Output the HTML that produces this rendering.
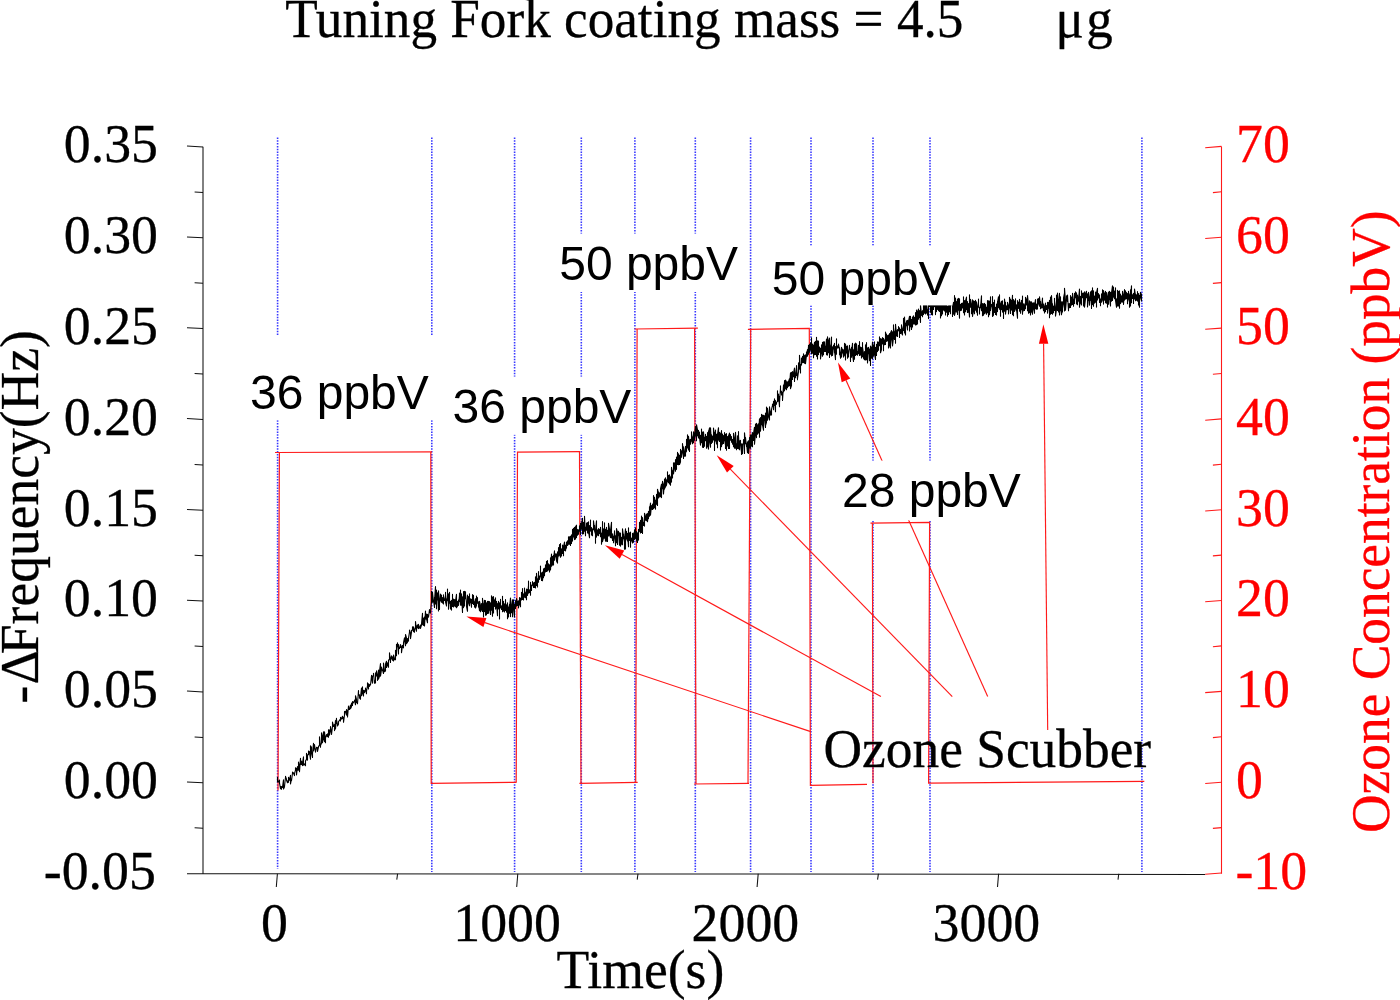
<!DOCTYPE html>
<html>
<head>
<meta charset="utf-8">
<title>Tuning Fork coating mass</title>
<style>
html, body { margin: 0; padding: 0; background: #fff; }
body { width: 1400px; height: 1000px; overflow: hidden; font-family: "Liberation Serif", serif; }
svg { display: block; }
</style>
</head>
<body>
<svg width="1400" height="1000" viewBox="0 0 1400 1000">
<rect x="0" y="0" width="1400" height="1000" fill="#fff"/>
<g stroke="#0000ff" stroke-width="1.6" stroke-dasharray="1.5 1.3" fill="none" opacity="0.78">
<line x1="277.6" y1="137.5" x2="277.6" y2="868.8"/>
<line x1="431.8" y1="137.5" x2="431.8" y2="872.0"/>
<line x1="514.6" y1="137.5" x2="514.6" y2="872.0"/>
<line x1="581.3" y1="137.5" x2="581.3" y2="872.0"/>
<line x1="634.9" y1="137.5" x2="634.9" y2="872.0"/>
<line x1="695.3" y1="137.5" x2="695.3" y2="872.0"/>
<line x1="750.6" y1="137.5" x2="750.6" y2="872.0"/>
<line x1="811.0" y1="137.5" x2="811.0" y2="872.0"/>
<line x1="873.0" y1="137.5" x2="873.0" y2="872.0"/>
<line x1="930.0" y1="137.5" x2="930.0" y2="872.0"/>
<line x1="1141.9" y1="137.5" x2="1141.9" y2="872.0"/>
</g>
<g stroke="#ff1a1a" stroke-width="1.2" fill="none" stroke-linejoin="miter">
<path d="M278.0 790.5 L279.4 452.4"/>
<path d="M275.0 452.5 L432.0 451.8"/>
<path d="M430.8 451.9 L431.2 783.4 L516.4 782.3"/>
<path d="M516.2 782.6 L517.5 452.2 L580.2 451.7"/>
<path d="M579.5 451.7 L581.0 783.4"/>
<path d="M579.4 783.4 L637.7 782.3"/>
<path d="M635.7 782.4 L637.1 329.0"/>
<path d="M634.7 329.0 L697.9 328.1"/>
<path d="M694.6 328.2 L696.0 783.9"/>
<path d="M694.0 784.0 L749.0 783.4"/>
<path d="M748.0 783.4 L750.7 329.3"/>
<path d="M747.9 329.3 L809.3 328.3 L810.4 785.4 L867.0 784.4"/>
<path d="M873.0 783.2 L872.4 523.2"/>
<path d="M870.5 523.2 L929.6 522.4 L928.6 783.2 L1144.3 781.4"/>
</g>
<path d="M277.5 777.0 L277.5 781.9 L278.5 781.1 L278.5 782.0 L279.5 780.0 L279.5 783.1 L280.5 788.7 L280.5 786.4 L280.5 788.7 L280.5 786.4 L281.5 789.2 L281.5 786.5 L281.5 789.2 L281.5 786.5 L282.5 787.5 L282.5 787.0 L282.5 787.5 L282.5 787.0 L283.5 779.7 L283.5 788.9 L284.5 787.0 L284.5 786.4 L284.5 787.0 L284.5 786.4 L285.5 777.2 L285.5 776.4 L285.5 777.2 L285.5 776.4 L286.5 779.2 L286.5 780.2 L287.5 782.7 L287.5 780.7 L287.5 782.7 L287.5 780.7 L288.5 782.3 L288.5 777.2 L288.5 782.3 L288.5 777.2 L289.5 780.3 L289.5 780.0 L289.5 780.3 L289.5 780.0 L290.5 775.3 L290.5 784.0 L291.5 778.9 L291.5 780.8 L292.5 773.1 L292.5 772.1 L292.5 773.1 L292.5 772.1 L293.5 773.0 L293.5 773.3 L294.5 775.6 L294.5 773.5 L294.5 775.6 L294.5 773.5 L295.5 770.2 L295.5 767.7 L295.5 770.2 L295.5 767.7 L296.5 768.8 L296.5 775.0 L297.5 766.5 L297.5 770.0 L298.5 770.1 L298.5 762.0 L298.5 770.1 L298.5 762.0 L299.5 767.4 L299.5 771.7 L300.5 758.2 L300.5 764.2 L301.5 764.4 L301.5 761.1 L301.5 764.4 L301.5 761.1 L302.5 765.6 L302.5 762.8 L302.5 765.6 L302.5 762.8 L303.5 756.8 L303.5 765.1 L304.5 763.9 L304.5 764.4 L305.5 765.7 L305.5 760.9 L305.5 765.7 L305.5 760.9 L306.5 759.4 L306.5 753.3 L306.5 759.4 L306.5 753.3 L307.5 760.1 L307.5 754.8 L307.5 760.1 L307.5 754.8 L308.5 754.8 L308.5 751.0 L308.5 754.8 L308.5 751.0 L309.5 751.6 L309.5 752.7 L310.5 759.2 L310.5 745.7 L310.5 759.2 L310.5 745.7 L311.5 747.3 L311.5 753.3 L312.5 757.4 L312.5 753.5 L312.5 757.4 L312.5 753.5 L313.5 743.2 L313.5 751.0 L314.5 746.6 L314.5 744.5 L314.5 746.6 L314.5 744.5 L315.5 752.1 L315.5 752.0 L315.5 752.1 L315.5 752.0 L316.5 747.7 L316.5 747.4 L316.5 747.7 L316.5 747.4 L317.5 747.6 L317.5 751.5 L318.5 747.1 L318.5 746.1 L318.5 747.1 L318.5 746.1 L319.5 745.7 L319.5 736.8 L319.5 745.7 L319.5 736.8 L320.5 747.3 L320.5 745.5 L320.5 747.3 L320.5 745.5 L321.5 743.2 L321.5 732.9 L321.5 743.2 L321.5 732.9 L322.5 737.5 L322.5 742.7 L323.5 731.7 L323.5 737.5 L324.5 741.6 L324.5 731.9 L324.5 741.6 L324.5 731.9 L325.5 742.7 L325.5 738.0 L325.5 742.7 L325.5 738.0 L326.5 734.6 L326.5 735.9 L327.5 736.6 L327.5 733.9 L327.5 736.6 L327.5 733.9 L328.5 737.3 L328.5 729.7 L328.5 737.3 L328.5 729.7 L329.5 730.0 L329.5 735.1 L330.5 730.6 L330.5 726.5 L330.5 730.6 L330.5 726.5 L331.5 733.0 L331.5 734.4 L332.5 726.4 L332.5 722.1 L332.5 726.4 L332.5 722.1 L333.5 726.4 L333.5 725.7 L333.5 726.4 L333.5 725.7 L334.5 724.6 L334.5 730.6 L335.5 720.5 L335.5 728.9 L336.5 718.4 L336.5 719.7 L337.5 724.6 L337.5 726.0 L338.5 724.3 L338.5 721.7 L338.5 724.3 L338.5 721.7 L339.5 720.4 L339.5 719.8 L339.5 720.4 L339.5 719.8 L340.5 720.9 L340.5 717.3 L340.5 720.9 L340.5 717.3 L341.5 718.5 L341.5 719.1 L342.5 716.3 L342.5 718.6 L343.5 717.3 L343.5 722.3 L344.5 715.1 L344.5 711.6 L344.5 715.1 L344.5 711.6 L345.5 711.2 L345.5 712.1 L346.5 715.1 L346.5 709.6 L346.5 715.1 L346.5 709.6 L347.5 711.8 L347.5 716.9 L348.5 706.1 L348.5 709.5 L349.5 709.5 L349.5 708.3 L349.5 709.5 L349.5 708.3 L350.5 705.1 L350.5 708.7 L351.5 706.7 L351.5 703.0 L351.5 706.7 L351.5 703.0 L352.5 705.4 L352.5 701.6 L352.5 705.4 L352.5 701.6 L353.5 702.8 L353.5 701.7 L353.5 702.8 L353.5 701.7 L354.5 701.8 L354.5 700.1 L354.5 701.8 L354.5 700.1 L355.5 704.8 L355.5 695.7 L355.5 704.8 L355.5 695.7 L356.5 699.4 L356.5 702.8 L357.5 701.8 L357.5 703.7 L358.5 690.6 L358.5 695.3 L359.5 694.8 L359.5 697.9 L360.5 699.2 L360.5 697.3 L360.5 699.2 L360.5 697.3 L361.5 688.1 L361.5 695.8 L362.5 686.7 L362.5 692.6 L363.5 696.0 L363.5 690.2 L363.5 696.0 L363.5 690.2 L364.5 690.9 L364.5 692.7 L365.5 689.5 L365.5 688.0 L365.5 689.5 L365.5 688.0 L366.5 693.8 L366.5 691.3 L366.5 693.8 L366.5 691.3 L367.5 685.5 L367.5 682.9 L367.5 685.5 L367.5 682.9 L368.5 689.0 L368.5 683.8 L368.5 689.0 L368.5 683.8 L369.5 684.8 L369.5 686.4 L370.5 683.9 L370.5 685.0 L371.5 675.9 L371.5 675.4 L371.5 675.9 L371.5 675.4 L372.5 683.1 L372.5 676.3 L372.5 683.1 L372.5 676.3 L373.5 675.5 L373.5 673.2 L373.5 675.5 L373.5 673.2 L374.5 683.2 L374.5 680.6 L374.5 683.2 L374.5 680.6 L375.5 682.9 L375.5 672.9 L375.5 682.9 L375.5 672.9 L376.5 675.9 L376.5 670.9 L376.5 675.9 L376.5 670.9 L377.5 677.7 L377.5 680.4 L378.5 670.1 L378.5 679.1 L379.5 676.2 L379.5 671.1 L379.5 676.2 L379.5 671.1 L380.5 663.5 L380.5 676.1 L381.5 669.6 L381.5 667.1 L381.5 669.6 L381.5 667.1 L382.5 670.4 L382.5 669.8 L382.5 670.4 L382.5 669.8 L383.5 673.5 L383.5 663.1 L383.5 673.5 L383.5 663.1 L384.5 670.9 L384.5 671.7 L385.5 670.9 L385.5 664.0 L385.5 670.9 L385.5 664.0 L386.5 661.2 L386.5 667.5 L387.5 663.3 L387.5 662.8 L387.5 663.3 L387.5 662.8 L388.5 667.3 L388.5 660.1 L388.5 667.3 L388.5 660.1 L389.5 659.5 L389.5 652.7 L389.5 659.5 L389.5 652.7 L390.5 662.5 L390.5 660.0 L390.5 662.5 L390.5 660.0 L391.5 655.8 L391.5 657.5 L392.5 660.2 L392.5 656.7 L392.5 660.2 L392.5 656.7 L393.5 661.0 L393.5 655.0 L393.5 661.0 L393.5 655.0 L394.5 658.7 L394.5 659.8 L395.5 659.7 L395.5 650.2 L395.5 659.7 L395.5 650.2 L396.5 655.7 L396.5 644.3 L396.5 655.7 L396.5 644.3 L397.5 646.8 L397.5 642.8 L397.5 646.8 L397.5 642.8 L398.5 654.0 L398.5 644.5 L398.5 654.0 L398.5 644.5 L399.5 648.6 L399.5 647.3 L399.5 648.6 L399.5 647.3 L400.5 647.4 L400.5 644.6 L400.5 647.4 L400.5 644.6 L401.5 647.2 L401.5 652.7 L402.5 645.3 L402.5 646.6 L403.5 647.8 L403.5 642.6 L403.5 647.8 L403.5 642.6 L404.5 637.8 L404.5 640.0 L405.5 645.7 L405.5 634.5 L405.5 645.7 L405.5 634.5 L406.5 638.0 L406.5 643.7 L407.5 642.3 L407.5 638.6 L407.5 642.3 L407.5 638.6 L408.5 641.1 L408.5 638.1 L408.5 641.1 L408.5 638.1 L409.5 632.2 L409.5 630.1 L409.5 632.2 L409.5 630.1 L410.5 633.1 L410.5 638.6 L411.5 632.2 L411.5 630.3 L411.5 632.2 L411.5 630.3 L412.5 630.2 L412.5 626.7 L412.5 630.2 L412.5 626.7 L413.5 631.6 L413.5 626.9 L413.5 631.6 L413.5 626.9 L414.5 632.3 L414.5 631.2 L414.5 632.3 L414.5 631.2 L415.5 627.2 L415.5 621.5 L415.5 627.2 L415.5 621.5 L416.5 631.3 L416.5 626.8 L416.5 631.3 L416.5 626.8 L417.5 624.9 L417.5 627.9 L418.5 624.4 L418.5 628.6 L419.5 627.9 L419.5 627.0 L419.5 627.9 L419.5 627.0 L420.5 625.0 L420.5 628.4 L421.5 625.2 L421.5 623.8 L421.5 625.2 L421.5 623.8 L422.5 613.3 L422.5 624.3 L423.5 625.3 L423.5 618.5 L423.5 625.3 L423.5 618.5 L424.5 617.2 L424.5 626.0 L425.5 611.0 L425.5 619.1 L426.5 614.1 L426.5 618.8 L427.5 622.8 L427.5 614.4 L427.5 622.8 L427.5 614.4 L428.5 616.5 L428.5 617.2 L429.5 609.6 L429.5 612.2 L430.5 613.1 L430.5 612.0 L430.5 613.1 L430.5 612.0 L431.5 601.8 L431.5 591.2 L431.5 601.8 L431.5 595.0 L432.5 602.3 L432.5 592.3 L432.5 602.3 L432.5 592.5 L433.5 602.0 L433.5 600.0 L433.5 602.0 L433.5 600.4 L434.5 607.4 L434.5 597.4 L434.5 607.4 L434.5 600.8 L435.5 586.6 L435.5 603.9 L435.5 594.0 L436.5 605.8 L436.5 590.1 L436.5 608.7 L436.5 594.4 L437.5 600.0 L437.5 592.9 L437.5 600.0 L437.5 592.9 L438.5 610.9 L438.5 590.9 L438.5 610.9 L438.5 590.9 L439.5 608.7 L439.5 603.7 L439.5 609.5 L439.5 603.7 L440.5 594.0 L440.5 600.6 L440.5 598.8 L441.5 602.2 L441.5 595.0 L441.5 602.2 L441.5 601.9 L442.5 601.5 L442.5 597.5 L442.5 603.0 L442.5 597.5 L443.5 604.0 L443.5 594.7 L443.5 604.0 L443.5 595.9 L444.5 599.5 L444.5 598.9 L444.5 600.5 L444.5 599.6 L445.5 600.7 L445.5 592.4 L445.5 602.2 L446.5 605.9 L446.5 598.8 L446.5 605.9 L446.5 602.5 L447.5 594.3 L447.5 589.0 L447.5 600.4 L447.5 594.6 L448.5 604.4 L448.5 593.8 L448.5 609.3 L449.5 598.0 L449.5 592.3 L449.5 603.3 L450.5 603.2 L450.5 601.4 L450.5 609.0 L450.5 604.5 L451.5 600.3 L451.5 610.1 L451.5 606.2 L452.5 606.5 L452.5 594.4 L452.5 606.5 L452.5 604.9 L453.5 599.0 L453.5 607.0 L453.5 606.1 L454.5 599.6 L454.5 605.9 L454.5 601.5 L455.5 599.6 L455.5 606.7 L455.5 601.1 L456.5 594.4 L456.5 607.8 L457.5 605.8 L457.5 601.4 L457.5 606.3 L457.5 604.5 L458.5 602.6 L458.5 600.0 L458.5 605.5 L459.5 595.4 L459.5 593.1 L459.5 601.6 L459.5 593.1 L460.5 599.1 L460.5 590.0 L460.5 605.1 L461.5 605.1 L461.5 593.7 L461.5 605.1 L461.5 593.7 L462.5 612.5 L462.5 596.9 L462.5 612.5 L462.5 596.9 L463.5 601.0 L463.5 591.5 L463.5 607.6 L464.5 591.2 L464.5 605.9 L464.5 592.1 L465.5 591.7 L465.5 598.7 L465.5 594.3 L466.5 602.6 L466.5 606.6 L467.5 611.3 L467.5 595.0 L467.5 611.3 L467.5 599.7 L468.5 596.6 L468.5 596.5 L468.5 602.8 L469.5 605.7 L469.5 593.7 L469.5 605.7 L469.5 602.8 L470.5 601.8 L470.5 598.7 L470.5 602.7 L470.5 598.7 L471.5 607.2 L471.5 599.3 L471.5 607.2 L471.5 599.3 L472.5 602.2 L472.5 594.6 L472.5 603.5 L472.5 594.6 L473.5 604.5 L473.5 595.4 L473.5 604.5 L473.5 602.0 L474.5 601.7 L474.5 607.1 L474.5 603.4 L475.5 598.7 L475.5 608.0 L476.5 605.5 L476.5 596.0 L476.5 605.5 L476.5 601.7 L477.5 599.6 L477.5 597.5 L477.5 603.3 L477.5 601.1 L478.5 604.6 L478.5 601.7 L478.5 607.1 L478.5 602.8 L479.5 610.6 L479.5 601.2 L479.5 610.7 L479.5 601.2 L480.5 605.7 L480.5 605.7 L480.5 611.8 L481.5 608.9 L481.5 603.6 L481.5 610.0 L481.5 603.6 L482.5 607.5 L482.5 598.3 L482.5 611.5 L482.5 598.8 L483.5 606.1 L483.5 603.5 L483.5 617.0 L483.5 604.9 L484.5 611.6 L484.5 600.2 L484.5 611.6 L484.5 606.4 L485.5 608.3 L485.5 600.5 L485.5 615.2 L486.5 614.8 L486.5 602.7 L486.5 614.8 L486.5 602.7 L487.5 613.4 L487.5 601.2 L487.5 613.4 L487.5 602.5 L488.5 601.3 L488.5 613.2 L488.5 605.4 L489.5 601.6 L489.5 610.2 L489.5 607.4 L490.5 614.4 L490.5 602.7 L490.5 614.4 L490.5 605.7 L491.5 610.3 L491.5 595.7 L491.5 610.3 L491.5 595.7 L492.5 616.2 L492.5 597.2 L492.5 616.2 L492.5 597.2 L493.5 596.6 L493.5 612.9 L493.5 605.8 L494.5 604.3 L494.5 599.9 L494.5 606.4 L495.5 597.9 L495.5 609.1 L496.5 605.1 L496.5 601.2 L496.5 607.4 L496.5 603.7 L497.5 615.6 L497.5 603.9 L497.5 615.6 L497.5 603.9 L498.5 602.6 L498.5 601.3 L498.5 608.5 L499.5 609.8 L499.5 602.8 L499.5 619.0 L499.5 602.8 L500.5 607.0 L500.5 599.4 L500.5 608.0 L501.5 608.0 L501.5 605.7 L501.5 609.5 L501.5 609.3 L502.5 607.5 L502.5 596.3 L502.5 611.7 L502.5 602.2 L503.5 607.3 L503.5 601.3 L503.5 611.1 L504.5 603.7 L504.5 611.9 L504.5 609.3 L505.5 610.5 L505.5 599.5 L505.5 610.5 L505.5 607.5 L506.5 610.4 L506.5 604.7 L506.5 612.2 L507.5 602.8 L507.5 618.7 L507.5 604.7 L508.5 608.8 L508.5 607.1 L508.5 617.0 L508.5 609.9 L509.5 613.3 L509.5 604.2 L509.5 613.3 L509.5 608.2 L510.5 598.0 L510.5 616.6 L510.5 598.2 L511.5 612.7 L511.5 607.7 L511.5 612.7 L511.5 610.6 L512.5 599.7 L512.5 616.7 L512.5 604.6 L513.5 601.8 L513.5 599.7 L513.5 609.2 L514.5 616.9 L514.5 604.5 L514.5 616.9 L514.5 604.5 L515.5 603.4 L515.5 601.0 L515.5 608.4 L515.5 601.0 L516.5 600.0 L516.5 598.5 L516.5 606.1 L516.5 598.5 L517.5 603.0 L517.5 601.2 L517.5 605.4 L517.5 602.5 L518.5 602.3 L518.5 600.9 L518.5 607.9 L519.5 599.9 L519.5 597.6 L519.5 604.9 L519.5 600.9 L520.5 603.6 L520.5 598.0 L520.5 606.7 L520.5 599.1 L521.5 600.0 L521.5 592.2 L521.5 600.0 L521.5 595.2 L522.5 599.5 L522.5 588.6 L522.5 599.5 L522.5 597.2 L523.5 597.8 L523.5 594.0 L523.5 600.0 L523.5 594.6 L524.5 592.8 L524.5 588.0 L524.5 597.3 L524.5 591.6 L525.5 594.2 L525.5 593.0 L525.5 597.7 L525.5 594.7 L526.5 590.2 L526.5 589.1 L526.5 599.8 L526.5 589.1 L527.5 589.9 L527.5 595.5 L528.5 585.2 L528.5 581.1 L528.5 593.2 L529.5 592.2 L529.5 589.8 L529.5 592.6 L530.5 589.9 L530.5 582.2 L530.5 595.3 L530.5 585.7 L531.5 589.5 L531.5 585.1 L531.5 590.5 L531.5 586.1 L532.5 584.7 L532.5 581.5 L532.5 584.7 L532.5 582.1 L533.5 587.4 L533.5 582.9 L533.5 587.4 L533.5 582.9 L534.5 587.4 L534.5 582.2 L534.5 587.4 L534.5 585.4 L535.5 581.5 L535.5 576.8 L535.5 588.0 L535.5 583.3 L536.5 576.8 L536.5 573.2 L536.5 585.4 L536.5 573.2 L537.5 586.9 L537.5 579.7 L537.5 586.9 L537.5 579.7 L538.5 577.9 L538.5 571.5 L538.5 582.2 L538.5 577.8 L539.5 576.1 L539.5 579.4 L540.5 574.5 L540.5 566.1 L540.5 575.7 L540.5 573.4 L541.5 577.9 L541.5 572.7 L541.5 580.5 L541.5 573.5 L542.5 580.7 L542.5 572.0 L542.5 580.7 L542.5 580.2 L543.5 572.7 L543.5 568.8 L543.5 577.6 L543.5 572.5 L544.5 571.0 L544.5 568.4 L544.5 575.7 L544.5 568.4 L545.5 567.6 L545.5 564.9 L545.5 572.0 L545.5 571.4 L546.5 571.4 L546.5 561.2 L546.5 571.4 L546.5 561.2 L547.5 571.0 L547.5 560.6 L547.5 571.0 L547.5 564.3 L548.5 564.7 L548.5 563.8 L548.5 570.0 L548.5 563.8 L549.5 567.7 L549.5 564.7 L549.5 571.9 L549.5 566.0 L550.5 569.5 L550.5 557.8 L550.5 570.0 L551.5 554.1 L551.5 566.2 L552.5 564.6 L552.5 556.4 L552.5 564.6 L552.5 561.2 L553.5 565.0 L553.5 555.3 L553.5 565.0 L553.5 559.4 L554.5 550.7 L554.5 560.3 L555.5 555.0 L555.5 553.9 L555.5 556.9 L556.5 553.9 L556.5 561.1 L557.5 563.1 L557.5 551.9 L557.5 563.1 L557.5 560.6 L558.5 551.2 L558.5 547.5 L558.5 556.1 L558.5 547.5 L559.5 555.3 L559.5 544.6 L559.5 555.3 L559.5 553.6 L560.5 557.3 L560.5 543.5 L560.5 557.3 L560.5 552.0 L561.5 552.9 L561.5 548.9 L561.5 555.9 L561.5 548.9 L562.5 553.4 L562.5 545.1 L562.5 553.4 L562.5 545.1 L563.5 547.9 L563.5 546.8 L563.5 555.7 L563.5 546.8 L564.5 542.1 L564.5 550.4 L565.5 547.8 L565.5 545.2 L565.5 551.0 L566.5 543.0 L566.5 542.0 L566.5 548.1 L566.5 544.1 L567.5 542.3 L567.5 540.7 L567.5 545.4 L568.5 543.9 L568.5 536.7 L568.5 543.9 L568.5 542.2 L569.5 536.7 L569.5 544.2 L569.5 538.8 L570.5 543.4 L570.5 536.3 L570.5 545.4 L570.5 540.9 L571.5 534.9 L571.5 543.4 L571.5 535.0 L572.5 541.1 L572.5 529.4 L572.5 541.1 L572.5 538.8 L573.5 535.9 L573.5 528.2 L573.5 535.9 L573.5 528.2 L574.5 538.9 L574.5 527.2 L574.5 539.6 L574.5 531.6 L575.5 534.5 L575.5 526.9 L575.5 539.1 L575.5 526.9 L576.5 525.2 L576.5 537.6 L576.5 528.2 L577.5 535.3 L577.5 529.6 L577.5 535.3 L577.5 529.6 L578.5 534.2 L578.5 529.9 L578.5 534.2 L578.5 529.9 L579.5 531.2 L579.5 525.8 L579.5 531.2 L579.5 528.3 L580.5 533.1 L580.5 523.2 L580.5 534.5 L580.5 523.2 L581.5 529.3 L581.5 523.5 L581.5 529.3 L581.5 523.5 L582.5 518.3 L582.5 534.0 L582.5 524.5 L583.5 529.0 L583.5 522.3 L583.5 533.7 L583.5 527.4 L584.5 531.3 L584.5 516.2 L584.5 531.3 L584.5 516.2 L585.5 535.7 L585.5 527.1 L585.5 535.7 L585.5 527.1 L586.5 530.3 L586.5 523.0 L586.5 530.3 L586.5 524.7 L587.5 525.6 L587.5 522.5 L587.5 533.0 L588.5 521.8 L588.5 533.3 L588.5 531.7 L589.5 537.7 L589.5 525.6 L589.5 537.7 L589.5 530.2 L590.5 530.9 L590.5 520.0 L590.5 531.1 L591.5 527.5 L591.5 534.9 L592.5 535.7 L592.5 528.9 L592.5 535.7 L592.5 530.5 L593.5 529.1 L593.5 520.8 L593.5 529.8 L593.5 520.8 L594.5 529.0 L594.5 525.4 L594.5 530.9 L595.5 534.1 L595.5 530.2 L595.5 543.3 L595.5 530.5 L596.5 520.8 L596.5 537.1 L596.5 532.3 L597.5 534.6 L597.5 529.9 L597.5 535.2 L598.5 533.9 L598.5 528.5 L598.5 535.7 L599.5 529.2 L599.5 529.2 L599.5 533.4 L599.5 532.0 L600.5 533.4 L600.5 527.3 L600.5 536.7 L600.5 532.2 L601.5 536.0 L601.5 533.3 L601.5 544.2 L602.5 527.4 L602.5 521.6 L602.5 541.7 L603.5 538.2 L603.5 528.9 L603.5 538.2 L603.5 528.9 L604.5 538.3 L604.5 522.7 L604.5 538.3 L604.5 527.5 L605.5 541.1 L605.5 529.2 L605.5 541.1 L605.5 534.8 L606.5 529.2 L606.5 527.4 L606.5 541.2 L606.5 527.4 L607.5 541.4 L607.5 530.4 L607.5 541.4 L607.5 533.9 L608.5 532.2 L608.5 523.4 L608.5 535.9 L608.5 523.4 L609.5 529.1 L609.5 534.7 L610.5 537.6 L610.5 529.9 L610.5 537.6 L610.5 530.5 L611.5 522.3 L611.5 537.9 L612.5 534.2 L612.5 533.9 L612.5 540.4 L612.5 535.1 L613.5 539.4 L613.5 536.4 L613.5 542.8 L614.5 532.0 L614.5 530.7 L614.5 533.3 L614.5 530.8 L615.5 544.5 L615.5 535.8 L615.5 545.8 L615.5 539.0 L616.5 542.6 L616.5 528.6 L616.5 542.8 L616.5 528.6 L617.5 532.2 L617.5 544.4 L617.5 536.7 L618.5 531.2 L618.5 534.2 L618.5 531.4 L619.5 545.1 L619.5 532.8 L619.5 545.1 L619.5 541.4 L620.5 538.6 L620.5 533.1 L620.5 546.2 L621.5 540.4 L621.5 537.5 L621.5 544.2 L621.5 540.0 L622.5 535.9 L622.5 528.9 L622.5 544.7 L622.5 528.9 L623.5 536.9 L623.5 534.1 L623.5 538.7 L623.5 535.6 L624.5 542.1 L624.5 539.5 L624.5 549.2 L624.5 539.5 L625.5 528.7 L625.5 548.9 L625.5 537.7 L626.5 531.4 L626.5 538.5 L627.5 540.9 L627.5 533.4 L627.5 540.9 L627.5 533.4 L628.5 546.7 L628.5 527.9 L628.5 546.7 L628.5 537.4 L629.5 534.2 L629.5 532.8 L629.5 540.4 L630.5 532.0 L630.5 547.2 L630.5 542.9 L631.5 538.1 L631.5 539.6 L631.5 538.5 L632.5 542.9 L632.5 533.3 L632.5 542.9 L632.5 533.3 L633.5 542.2 L633.5 533.9 L633.5 542.2 L633.5 533.9 L634.5 531.6 L634.5 529.8 L634.5 539.5 L635.5 533.9 L635.5 527.7 L635.5 538.5 L636.5 531.5 L636.5 540.2 L637.5 542.5 L637.5 532.9 L637.5 542.5 L637.5 532.9 L638.5 540.1 L638.5 529.3 L638.5 540.1 L638.5 532.5 L639.5 531.2 L639.5 522.3 L639.5 531.2 L639.5 522.3 L640.5 525.6 L640.5 520.4 L640.5 533.0 L640.5 529.3 L641.5 520.7 L641.5 516.1 L641.5 532.5 L641.5 516.1 L642.5 533.3 L642.5 517.5 L642.5 533.4 L642.5 517.5 L643.5 525.4 L643.5 522.4 L643.5 525.4 L643.5 522.4 L644.5 526.1 L644.5 513.2 L644.5 526.1 L644.5 513.2 L645.5 516.7 L645.5 516.1 L645.5 520.2 L645.5 519.3 L646.5 517.8 L646.5 514.0 L646.5 520.8 L647.5 519.4 L647.5 513.5 L647.5 521.8 L648.5 511.3 L648.5 518.6 L648.5 511.5 L649.5 516.2 L649.5 506.7 L649.5 516.2 L649.5 512.0 L650.5 503.1 L650.5 515.3 L651.5 505.6 L651.5 509.3 L651.5 506.0 L652.5 508.3 L652.5 504.0 L652.5 509.4 L652.5 505.8 L653.5 506.3 L653.5 495.6 L653.5 508.7 L653.5 495.6 L654.5 504.0 L654.5 497.2 L654.5 507.7 L654.5 497.2 L655.5 509.1 L655.5 500.5 L655.5 509.1 L655.5 503.7 L656.5 498.3 L656.5 494.4 L656.5 504.3 L656.5 503.0 L657.5 505.5 L657.5 489.2 L657.5 505.5 L657.5 489.2 L658.5 493.5 L658.5 491.8 L658.5 498.0 L659.5 496.3 L659.5 492.8 L659.5 496.3 L659.5 492.8 L660.5 494.0 L660.5 488.5 L660.5 496.7 L660.5 488.5 L661.5 484.2 L661.5 497.6 L661.5 495.2 L662.5 481.8 L662.5 481.4 L662.5 488.8 L662.5 481.4 L663.5 485.4 L663.5 494.0 L664.5 482.0 L664.5 479.0 L664.5 489.1 L665.5 485.2 L665.5 477.7 L665.5 487.1 L665.5 486.7 L666.5 485.1 L666.5 479.8 L666.5 485.1 L666.5 484.9 L667.5 478.1 L667.5 471.7 L667.5 481.7 L668.5 479.1 L668.5 475.4 L668.5 482.8 L668.5 477.3 L669.5 475.8 L669.5 474.8 L669.5 483.9 L669.5 474.8 L670.5 485.2 L670.5 476.9 L670.5 485.2 L670.5 476.9 L671.5 482.1 L671.5 467.4 L671.5 482.1 L671.5 467.4 L672.5 474.2 L672.5 472.7 L672.5 477.9 L672.5 472.7 L673.5 469.3 L673.5 462.7 L673.5 473.9 L674.5 466.6 L674.5 462.9 L674.5 466.6 L674.5 463.3 L675.5 470.8 L675.5 459.5 L675.5 471.3 L675.5 469.8 L676.5 469.2 L676.5 457.1 L676.5 469.2 L676.5 460.2 L677.5 460.2 L677.5 452.4 L677.5 464.4 L677.5 452.4 L678.5 462.6 L678.5 453.8 L678.5 464.8 L678.5 454.5 L679.5 456.5 L679.5 455.3 L679.5 464.5 L680.5 462.0 L680.5 449.4 L680.5 462.0 L680.5 449.4 L681.5 453.8 L681.5 450.7 L681.5 457.3 L682.5 451.0 L682.5 443.5 L682.5 451.0 L682.5 443.5 L683.5 455.5 L683.5 446.8 L683.5 458.5 L683.5 446.8 L684.5 451.5 L684.5 451.5 L684.5 456.2 L684.5 454.0 L685.5 456.1 L685.5 446.2 L685.5 456.1 L685.5 452.8 L686.5 451.1 L686.5 439.4 L686.5 451.1 L686.5 439.4 L687.5 445.2 L687.5 434.7 L687.5 448.0 L687.5 434.7 L688.5 450.0 L688.5 436.4 L688.5 450.0 L688.5 436.4 L689.5 447.2 L689.5 439.9 L689.5 451.5 L689.5 439.9 L690.5 441.7 L690.5 439.3 L690.5 444.2 L690.5 444.0 L691.5 439.1 L691.5 431.8 L691.5 441.3 L691.5 435.1 L692.5 439.9 L692.5 437.7 L692.5 443.7 L692.5 440.9 L693.5 433.0 L693.5 431.9 L693.5 442.8 L693.5 431.9 L694.5 436.4 L694.5 440.2 L694.5 436.7 L695.5 426.5 L695.5 436.3 L696.5 430.6 L696.5 424.7 L696.5 440.8 L696.5 424.7 L697.5 429.8 L697.5 435.6 L697.5 433.9 L698.5 437.7 L698.5 430.4 L698.5 437.9 L698.5 431.6 L699.5 432.2 L699.5 438.6 L699.5 437.4 L700.5 445.1 L700.5 435.2 L700.5 445.1 L700.5 440.4 L701.5 434.2 L701.5 429.1 L701.5 442.7 L701.5 440.2 L702.5 433.8 L702.5 432.1 L702.5 447.2 L702.5 432.1 L703.5 447.4 L703.5 431.8 L703.5 447.4 L703.5 431.8 L704.5 444.6 L704.5 437.2 L704.5 446.2 L704.5 437.2 L705.5 438.7 L705.5 434.4 L705.5 440.7 L706.5 440.1 L706.5 436.4 L706.5 448.2 L706.5 436.4 L707.5 441.1 L707.5 432.6 L707.5 446.8 L707.5 444.5 L708.5 449.1 L708.5 430.7 L708.5 449.1 L708.5 432.6 L709.5 427.9 L709.5 441.6 L710.5 447.2 L710.5 427.8 L710.5 447.2 L710.5 427.8 L711.5 443.4 L711.5 434.7 L711.5 443.4 L711.5 439.4 L712.5 442.2 L712.5 436.0 L712.5 442.2 L712.5 436.0 L713.5 439.9 L713.5 428.1 L713.5 439.9 L713.5 428.1 L714.5 436.5 L714.5 432.2 L714.5 450.5 L714.5 432.2 L715.5 441.0 L715.5 430.0 L715.5 441.0 L715.5 435.4 L716.5 444.0 L716.5 434.4 L716.5 444.0 L716.5 434.4 L717.5 433.6 L717.5 447.7 L717.5 434.4 L718.5 427.7 L718.5 439.7 L719.5 441.4 L719.5 432.3 L719.5 441.4 L719.5 432.3 L720.5 434.2 L720.5 450.1 L720.5 445.3 L721.5 430.6 L721.5 446.6 L722.5 434.1 L722.5 444.1 L722.5 436.4 L723.5 443.5 L723.5 435.6 L723.5 443.5 L723.5 440.7 L724.5 440.4 L724.5 432.5 L724.5 440.4 L724.5 438.5 L725.5 445.5 L725.5 434.4 L725.5 448.5 L725.5 434.4 L726.5 433.6 L726.5 450.2 L726.5 446.8 L727.5 436.5 L727.5 446.0 L727.5 445.2 L728.5 441.6 L728.5 436.0 L728.5 448.5 L728.5 436.0 L729.5 433.1 L729.5 448.4 L729.5 435.7 L730.5 436.3 L730.5 434.5 L730.5 440.2 L731.5 438.3 L731.5 436.5 L731.5 442.3 L732.5 439.4 L732.5 444.2 L733.5 440.1 L733.5 433.2 L733.5 446.8 L733.5 433.2 L734.5 438.3 L734.5 448.3 L735.5 440.0 L735.5 432.2 L735.5 448.2 L735.5 432.2 L736.5 449.8 L736.5 443.5 L736.5 449.8 L736.5 443.5 L737.5 445.7 L737.5 435.8 L737.5 448.4 L737.5 439.9 L738.5 448.7 L738.5 431.6 L738.5 448.7 L738.5 435.7 L739.5 449.7 L739.5 440.9 L739.5 449.7 L739.5 444.7 L740.5 440.8 L740.5 440.2 L740.5 444.3 L741.5 452.3 L741.5 443.8 L741.5 454.4 L741.5 454.0 L742.5 453.6 L742.5 444.4 L742.5 453.6 L742.5 444.5 L743.5 442.9 L743.5 439.6 L743.5 443.5 L743.5 440.2 L744.5 453.4 L744.5 432.9 L744.5 453.4 L744.5 432.9 L745.5 443.8 L745.5 437.6 L745.5 443.8 L745.5 437.6 L746.5 446.5 L746.5 443.5 L746.5 446.5 L746.5 443.5 L747.5 452.7 L747.5 442.3 L747.5 452.7 L747.5 442.3 L748.5 440.8 L748.5 453.4 L749.5 441.2 L749.5 437.5 L749.5 447.9 L750.5 435.1 L750.5 448.2 L751.5 436.1 L751.5 435.9 L751.5 445.9 L751.5 435.9 L752.5 432.6 L752.5 446.7 L752.5 435.1 L753.5 433.9 L753.5 433.8 L753.5 440.5 L753.5 433.8 L754.5 427.2 L754.5 444.3 L755.5 433.3 L755.5 424.0 L755.5 433.3 L755.5 424.0 L756.5 437.6 L756.5 423.4 L756.5 437.6 L756.5 423.4 L757.5 425.2 L757.5 434.3 L758.5 430.0 L758.5 423.7 L758.5 433.0 L759.5 418.9 L759.5 437.2 L759.5 431.1 L760.5 417.6 L760.5 431.1 L761.5 418.0 L761.5 414.4 L761.5 423.0 L762.5 425.5 L762.5 415.0 L762.5 425.5 L762.5 425.2 L763.5 430.2 L763.5 415.2 L763.5 430.2 L763.5 415.2 L764.5 416.0 L764.5 420.6 L764.5 419.3 L765.5 427.5 L765.5 413.0 L765.5 427.5 L765.5 425.7 L766.5 422.3 L766.5 407.1 L766.5 422.3 L766.5 407.1 L767.5 410.9 L767.5 408.3 L767.5 420.2 L767.5 408.3 L768.5 415.5 L768.5 415.3 L768.5 416.8 L768.5 416.6 L769.5 420.0 L769.5 406.8 L769.5 420.0 L769.5 406.8 L770.5 414.9 L770.5 411.8 L770.5 415.1 L771.5 409.8 L771.5 409.4 L771.5 415.0 L771.5 409.4 L772.5 405.5 L772.5 404.1 L772.5 406.1 L773.5 406.6 L773.5 401.3 L773.5 409.8 L773.5 401.3 L774.5 401.7 L774.5 398.9 L774.5 405.4 L774.5 398.9 L775.5 411.7 L775.5 400.5 L775.5 411.7 L775.5 402.5 L776.5 403.5 L776.5 402.3 L776.5 404.3 L776.5 402.3 L777.5 401.4 L777.5 390.7 L777.5 401.6 L778.5 400.6 L778.5 394.1 L778.5 400.6 L778.5 394.9 L779.5 406.7 L779.5 396.4 L779.5 406.7 L779.5 402.7 L780.5 388.0 L780.5 385.9 L780.5 392.7 L780.5 390.4 L781.5 391.6 L781.5 391.3 L781.5 394.9 L781.5 393.5 L782.5 394.2 L782.5 392.3 L782.5 400.5 L783.5 385.1 L783.5 391.9 L784.5 382.1 L784.5 380.6 L784.5 390.8 L784.5 389.5 L785.5 388.5 L785.5 380.0 L785.5 388.5 L785.5 380.0 L786.5 382.1 L786.5 389.7 L786.5 385.4 L787.5 387.7 L787.5 381.7 L787.5 387.7 L787.5 384.1 L788.5 386.3 L788.5 381.7 L788.5 386.3 L788.5 381.7 L789.5 378.8 L789.5 385.7 L790.5 372.7 L790.5 388.7 L791.5 385.5 L791.5 372.2 L791.5 385.5 L791.5 373.4 L792.5 378.7 L792.5 371.5 L792.5 379.5 L792.5 374.3 L793.5 373.8 L793.5 373.2 L793.5 376.7 L793.5 373.2 L794.5 368.1 L794.5 381.5 L794.5 372.6 L795.5 377.8 L795.5 373.9 L795.5 377.8 L795.5 373.9 L796.5 367.3 L796.5 365.5 L796.5 375.4 L796.5 365.5 L797.5 379.4 L797.5 377.9 L797.5 379.7 L797.5 378.4 L798.5 371.8 L798.5 362.8 L798.5 371.8 L798.5 362.8 L799.5 367.1 L799.5 355.3 L799.5 369.1 L799.5 355.3 L800.5 372.9 L800.5 364.4 L800.5 372.9 L800.5 366.2 L801.5 364.8 L801.5 358.1 L801.5 364.8 L801.5 358.1 L802.5 362.8 L802.5 356.4 L802.5 362.8 L802.5 356.4 L803.5 360.5 L803.5 353.8 L803.5 362.6 L803.5 353.8 L804.5 360.9 L804.5 355.8 L804.5 363.3 L804.5 355.8 L805.5 354.8 L805.5 363.8 L806.5 354.9 L806.5 352.1 L806.5 356.8 L806.5 355.5 L807.5 349.6 L807.5 356.3 L808.5 346.6 L808.5 345.2 L808.5 354.3 L808.5 345.2 L809.5 351.4 L809.5 344.4 L809.5 352.2 L809.5 344.4 L810.5 348.7 L810.5 342.9 L810.5 350.1 L810.5 342.9 L811.5 353.8 L811.5 337.8 L811.5 353.8 L811.5 347.6 L812.5 353.2 L812.5 344.1 L812.5 353.2 L812.5 344.4 L813.5 351.9 L813.5 345.4 L813.5 357.8 L813.5 350.3 L814.5 342.4 L814.5 354.8 L814.5 348.0 L815.5 341.2 L815.5 354.5 L815.5 354.2 L816.5 352.6 L816.5 337.3 L816.5 356.2 L817.5 340.9 L817.5 358.9 L817.5 352.5 L818.5 354.6 L818.5 341.0 L818.5 354.6 L818.5 347.5 L819.5 347.0 L819.5 352.2 L819.5 347.4 L820.5 349.3 L820.5 348.2 L820.5 359.0 L821.5 350.9 L821.5 344.7 L821.5 350.9 L821.5 344.7 L822.5 356.2 L822.5 342.2 L822.5 356.2 L822.5 345.2 L823.5 347.7 L823.5 341.8 L823.5 354.8 L823.5 341.8 L824.5 351.4 L824.5 341.7 L824.5 351.4 L824.5 348.9 L825.5 348.1 L825.5 346.0 L825.5 351.5 L825.5 350.4 L826.5 339.0 L826.5 354.8 L827.5 348.7 L827.5 336.7 L827.5 355.1 L827.5 336.7 L828.5 344.2 L828.5 342.9 L828.5 352.8 L828.5 342.9 L829.5 338.0 L829.5 357.4 L829.5 343.8 L830.5 349.3 L830.5 354.3 L830.5 353.4 L831.5 337.1 L831.5 355.9 L832.5 351.6 L832.5 346.8 L832.5 355.5 L833.5 345.7 L833.5 345.4 L833.5 349.1 L834.5 343.3 L834.5 352.8 L834.5 350.1 L835.5 359.6 L835.5 346.6 L835.5 359.6 L835.5 346.6 L836.5 354.2 L836.5 338.7 L836.5 354.2 L836.5 348.9 L837.5 347.1 L837.5 345.9 L837.5 348.0 L837.5 345.9 L838.5 347.7 L838.5 344.1 L838.5 347.7 L838.5 344.1 L839.5 349.5 L839.5 347.5 L839.5 354.8 L839.5 347.5 L840.5 358.3 L840.5 355.8 L840.5 358.3 L840.5 357.2 L841.5 348.6 L841.5 347.4 L841.5 357.1 L841.5 347.4 L842.5 350.0 L842.5 349.2 L842.5 352.9 L842.5 349.2 L843.5 356.5 L843.5 349.8 L843.5 357.1 L844.5 354.8 L844.5 343.4 L844.5 355.2 L844.5 343.4 L845.5 347.5 L845.5 344.1 L845.5 359.9 L845.5 344.1 L846.5 353.0 L846.5 346.3 L846.5 353.0 L846.5 349.7 L847.5 355.4 L847.5 345.7 L847.5 358.3 L847.5 345.7 L848.5 356.6 L848.5 352.0 L848.5 356.9 L848.5 354.4 L849.5 348.4 L849.5 345.3 L849.5 349.3 L849.5 348.0 L850.5 349.8 L850.5 361.4 L850.5 353.7 L851.5 356.2 L851.5 347.4 L851.5 357.3 L851.5 354.2 L852.5 343.3 L852.5 355.6 L852.5 354.8 L853.5 361.4 L853.5 349.8 L853.5 361.4 L853.5 356.6 L854.5 347.1 L854.5 344.0 L854.5 359.3 L854.5 344.9 L855.5 355.5 L855.5 343.0 L855.5 355.5 L855.5 343.0 L856.5 353.0 L856.5 343.8 L856.5 354.6 L856.5 343.8 L857.5 355.3 L857.5 351.2 L857.5 355.3 L857.5 352.4 L858.5 353.6 L858.5 345.2 L858.5 353.6 L858.5 347.5 L859.5 350.4 L859.5 341.6 L859.5 355.5 L859.5 348.7 L860.5 349.6 L860.5 347.0 L860.5 355.1 L860.5 352.4 L861.5 348.5 L861.5 347.6 L861.5 358.0 L861.5 349.6 L862.5 356.8 L862.5 342.5 L862.5 356.8 L862.5 347.2 L863.5 353.6 L863.5 358.3 L864.5 359.7 L864.5 351.6 L864.5 359.7 L864.5 358.3 L865.5 351.4 L865.5 344.7 L865.5 360.0 L865.5 357.7 L866.5 353.0 L866.5 342.6 L866.5 359.7 L866.5 355.9 L867.5 354.2 L867.5 347.9 L867.5 363.0 L868.5 349.4 L868.5 347.4 L868.5 353.6 L869.5 352.1 L869.5 349.1 L869.5 360.6 L870.5 346.0 L870.5 365.5 L870.5 347.4 L871.5 358.1 L871.5 347.0 L871.5 358.1 L871.5 357.2 L872.5 342.0 L872.5 358.7 L872.5 350.5 L873.5 345.1 L873.5 356.0 L873.5 351.0 L874.5 341.7 L874.5 354.2 L875.5 359.5 L875.5 347.2 L875.5 359.5 L875.5 349.3 L876.5 355.4 L876.5 344.3 L876.5 355.5 L876.5 351.5 L877.5 345.0 L877.5 341.9 L877.5 351.6 L877.5 341.9 L878.5 347.2 L878.5 342.3 L878.5 350.3 L878.5 342.3 L879.5 341.8 L879.5 336.9 L879.5 345.8 L879.5 345.1 L880.5 338.5 L880.5 352.8 L881.5 349.6 L881.5 339.0 L881.5 349.6 L881.5 339.0 L882.5 342.8 L882.5 337.6 L882.5 344.0 L883.5 342.9 L883.5 338.4 L883.5 350.8 L883.5 338.4 L884.5 340.5 L884.5 344.8 L884.5 342.4 L885.5 339.6 L885.5 332.1 L885.5 344.4 L885.5 332.1 L886.5 339.9 L886.5 334.0 L886.5 341.4 L887.5 340.8 L887.5 335.6 L887.5 340.8 L887.5 338.8 L888.5 335.0 L888.5 348.0 L889.5 345.3 L889.5 333.5 L889.5 345.3 L889.5 333.5 L890.5 339.6 L890.5 332.9 L890.5 347.9 L890.5 332.9 L891.5 330.6 L891.5 339.7 L891.5 338.2 L892.5 345.5 L892.5 331.7 L892.5 345.9 L893.5 337.4 L893.5 324.9 L893.5 337.4 L893.5 327.2 L894.5 335.1 L894.5 333.5 L894.5 339.5 L894.5 333.5 L895.5 330.5 L895.5 324.4 L895.5 343.3 L895.5 324.4 L896.5 334.1 L896.5 330.5 L896.5 336.0 L896.5 330.5 L897.5 335.0 L897.5 329.5 L897.5 336.4 L897.5 329.5 L898.5 330.7 L898.5 326.5 L898.5 330.7 L898.5 329.5 L899.5 331.9 L899.5 327.9 L899.5 337.4 L899.5 327.9 L900.5 333.1 L900.5 329.5 L900.5 333.5 L900.5 329.5 L901.5 330.5 L901.5 324.8 L901.5 333.0 L902.5 335.0 L902.5 329.1 L902.5 335.0 L902.5 329.1 L903.5 325.3 L903.5 318.3 L903.5 330.6 L903.5 328.0 L904.5 324.0 L904.5 317.0 L904.5 332.9 L904.5 317.0 L905.5 335.0 L905.5 323.0 L905.5 335.0 L905.5 325.3 L906.5 322.6 L906.5 320.8 L906.5 325.8 L906.5 320.8 L907.5 329.9 L907.5 320.2 L907.5 329.9 L907.5 326.6 L908.5 320.8 L908.5 325.0 L908.5 321.1 L909.5 316.4 L909.5 330.9 L910.5 316.4 L910.5 326.7 L910.5 319.5 L911.5 319.5 L911.5 329.5 L912.5 317.1 L912.5 326.9 L912.5 323.9 L913.5 315.7 L913.5 323.9 L913.5 320.7 L914.5 317.4 L914.5 324.0 L914.5 323.9 L915.5 316.9 L915.5 312.6 L915.5 324.9 L915.5 312.6 L916.5 324.6 L916.5 310.1 L916.5 324.6 L916.5 319.6 L917.5 323.9 L917.5 311.7 L917.5 323.9 L917.5 311.7 L918.5 309.1 L918.5 319.2 L918.5 311.3 L919.5 317.4 L919.5 310.6 L919.5 317.4 L919.5 311.8 L920.5 322.4 L920.5 305.3 L920.5 322.4 L920.5 305.3 L921.5 314.5 L921.5 313.3 L921.5 315.4 L922.5 310.7 L922.5 316.8 L922.5 312.8 L923.5 309.4 L923.5 305.3 L923.5 314.6 L923.5 305.3 L924.5 309.9 L924.5 303.2 L924.5 313.2 L925.5 309.8 L925.5 301.8 L925.5 314.0 L925.5 301.8 L926.5 308.9 L926.5 303.2 L926.5 313.1 L926.5 303.2 L927.5 312.2 L927.5 309.5 L927.5 315.1 L927.5 313.8 L928.5 310.6 L928.5 305.1 L928.5 318.6 L928.5 305.1 L929.5 305.4 L929.5 297.0 L929.5 306.6 L929.5 297.0 L930.5 306.0 L930.5 304.5 L930.5 312.2 L930.5 304.5 L931.5 314.6 L931.5 295.6 L931.5 314.6 L931.5 295.6 L932.5 302.1 L932.5 301.9 L932.5 315.0 L932.5 309.5 L933.5 300.2 L933.5 309.5 L933.5 305.2 L934.5 306.6 L934.5 296.5 L934.5 306.6 L934.5 296.5 L935.5 306.0 L935.5 304.9 L935.5 314.6 L935.5 304.9 L936.5 302.3 L936.5 311.6 L936.5 308.5 L937.5 303.2 L937.5 309.4 L938.5 304.2 L938.5 298.2 L938.5 310.8 L939.5 300.2 L939.5 311.5 L939.5 304.4 L940.5 302.8 L940.5 318.0 L940.5 312.3 L941.5 301.2 L941.5 297.1 L941.5 315.7 L941.5 303.6 L942.5 310.7 L942.5 301.3 L942.5 314.0 L942.5 302.8 L943.5 307.6 L943.5 295.6 L943.5 310.1 L943.5 309.7 L944.5 304.0 L944.5 310.9 L944.5 308.2 L945.5 309.4 L945.5 303.8 L945.5 315.0 L945.5 307.4 L946.5 303.6 L946.5 312.3 L946.5 309.2 L947.5 307.3 L947.5 306.0 L947.5 316.2 L947.5 306.0 L948.5 314.5 L948.5 305.6 L948.5 314.5 L948.5 305.6 L949.5 311.7 L949.5 303.1 L949.5 311.7 L949.5 308.0 L950.5 305.8 L950.5 302.5 L950.5 313.8 L950.5 302.5 L951.5 297.1 L951.5 296.7 L951.5 304.0 L951.5 302.9 L952.5 306.6 L952.5 316.4 L952.5 308.2 L953.5 309.1 L953.5 302.4 L953.5 314.1 L954.5 314.0 L954.5 295.6 L954.5 315.4 L955.5 311.1 L955.5 298.1 L955.5 311.1 L955.5 309.8 L956.5 308.8 L956.5 301.5 L956.5 311.9 L957.5 299.0 L957.5 314.5 L957.5 308.2 L958.5 299.1 L958.5 298.3 L958.5 310.3 L958.5 298.3 L959.5 318.1 L959.5 298.7 L959.5 318.1 L959.5 306.7 L960.5 309.2 L960.5 304.4 L960.5 310.6 L960.5 305.3 L961.5 305.2 L961.5 303.3 L961.5 310.3 L961.5 307.9 L962.5 307.4 L962.5 303.0 L962.5 307.9 L962.5 306.4 L963.5 306.1 L963.5 296.9 L963.5 312.7 L963.5 307.9 L964.5 300.6 L964.5 300.5 L964.5 314.9 L964.5 300.5 L965.5 305.9 L965.5 301.0 L965.5 311.8 L965.5 301.0 L966.5 297.1 L966.5 309.4 L966.5 304.7 L967.5 312.5 L967.5 301.6 L967.5 312.5 L967.5 307.3 L968.5 308.8 L968.5 303.6 L968.5 312.3 L968.5 304.9 L969.5 316.9 L969.5 294.8 L969.5 316.9 L969.5 304.6 L970.5 307.3 L970.5 299.4 L970.5 307.3 L970.5 299.4 L971.5 304.3 L971.5 313.7 L971.5 304.6 L972.5 303.6 L972.5 299.8 L972.5 316.5 L973.5 310.2 L973.5 300.8 L973.5 310.2 L973.5 300.8 L974.5 313.8 L974.5 301.2 L974.5 313.8 L974.5 312.0 L975.5 300.3 L975.5 310.1 L975.5 304.2 L976.5 309.3 L976.5 301.8 L976.5 312.1 L976.5 301.8 L977.5 315.3 L977.5 306.4 L977.5 315.3 L977.5 309.1 L978.5 302.2 L978.5 299.1 L978.5 307.0 L979.5 307.6 L979.5 314.0 L979.5 311.0 L980.5 304.5 L980.5 307.7 L981.5 295.8 L981.5 310.8 L981.5 303.6 L982.5 306.6 L982.5 303.6 L982.5 315.8 L982.5 306.0 L983.5 315.3 L983.5 303.7 L983.5 315.3 L983.5 308.7 L984.5 313.7 L984.5 303.4 L984.5 313.7 L984.5 303.4 L985.5 306.8 L985.5 304.5 L985.5 312.1 L986.5 314.3 L986.5 307.2 L986.5 314.3 L986.5 311.3 L987.5 304.9 L987.5 300.6 L987.5 312.7 L987.5 301.3 L988.5 311.7 L988.5 300.7 L988.5 316.7 L988.5 300.7 L989.5 311.2 L989.5 301.1 L989.5 314.8 L989.5 314.8 L990.5 301.9 L990.5 296.7 L990.5 310.5 L990.5 310.4 L991.5 305.4 L991.5 304.4 L991.5 306.3 L991.5 304.4 L992.5 304.9 L992.5 296.5 L992.5 316.5 L993.5 315.1 L993.5 302.5 L993.5 315.1 L993.5 308.7 L994.5 312.4 L994.5 300.0 L994.5 312.4 L994.5 307.4 L995.5 307.3 L995.5 314.5 L995.5 309.4 L996.5 313.3 L996.5 304.1 L996.5 315.1 L996.5 304.1 L997.5 308.7 L997.5 301.4 L997.5 311.6 L997.5 302.6 L998.5 296.7 L998.5 307.4 L998.5 304.7 L999.5 309.3 L999.5 294.7 L999.5 309.3 L999.5 307.0 L1000.5 305.0 L1000.5 304.0 L1000.5 316.3 L1000.5 304.0 L1001.5 301.3 L1001.5 309.8 L1002.5 301.7 L1002.5 300.8 L1002.5 312.1 L1002.5 311.1 L1003.5 308.9 L1003.5 305.0 L1003.5 318.5 L1003.5 305.0 L1004.5 305.6 L1004.5 299.0 L1004.5 311.3 L1004.5 299.0 L1005.5 308.0 L1005.5 302.4 L1005.5 314.1 L1006.5 306.8 L1006.5 305.9 L1006.5 309.5 L1007.5 309.6 L1007.5 302.4 L1007.5 309.6 L1007.5 302.4 L1008.5 305.5 L1008.5 314.0 L1009.5 304.7 L1009.5 297.3 L1009.5 308.0 L1009.5 297.3 L1010.5 302.8 L1010.5 299.3 L1010.5 313.5 L1010.5 301.0 L1011.5 300.4 L1011.5 310.1 L1011.5 309.8 L1012.5 295.2 L1012.5 314.6 L1012.5 303.2 L1013.5 315.8 L1013.5 299.6 L1013.5 315.8 L1013.5 302.9 L1014.5 302.5 L1014.5 300.9 L1014.5 311.4 L1015.5 308.5 L1015.5 298.8 L1015.5 308.5 L1015.5 307.1 L1016.5 306.7 L1016.5 304.7 L1016.5 310.7 L1016.5 309.0 L1017.5 318.2 L1017.5 300.5 L1017.5 318.2 L1017.5 308.3 L1018.5 302.0 L1018.5 308.4 L1019.5 304.9 L1019.5 299.2 L1019.5 311.2 L1019.5 299.2 L1020.5 311.4 L1020.5 302.9 L1020.5 313.3 L1020.5 302.9 L1021.5 309.7 L1021.5 300.3 L1021.5 309.7 L1021.5 300.3 L1022.5 314.3 L1022.5 296.0 L1022.5 314.3 L1022.5 312.6 L1023.5 309.3 L1023.5 303.7 L1023.5 310.3 L1023.5 306.4 L1024.5 307.8 L1024.5 305.3 L1024.5 310.4 L1024.5 305.3 L1025.5 302.6 L1025.5 297.3 L1025.5 308.8 L1025.5 297.3 L1026.5 299.5 L1026.5 305.0 L1027.5 305.2 L1027.5 295.5 L1027.5 310.8 L1027.5 295.5 L1028.5 304.8 L1028.5 313.2 L1029.5 312.4 L1029.5 300.7 L1029.5 312.4 L1029.5 304.6 L1030.5 302.0 L1030.5 301.7 L1030.5 315.0 L1030.5 301.7 L1031.5 304.2 L1031.5 301.7 L1031.5 312.1 L1031.5 308.6 L1032.5 314.3 L1032.5 303.1 L1032.5 314.3 L1032.5 312.3 L1033.5 302.8 L1033.5 306.7 L1034.5 313.2 L1034.5 303.1 L1034.5 313.2 L1034.5 306.3 L1035.5 299.5 L1035.5 308.8 L1036.5 308.3 L1036.5 304.0 L1036.5 309.2 L1036.5 304.0 L1037.5 308.9 L1037.5 299.0 L1037.5 308.9 L1037.5 304.6 L1038.5 298.5 L1038.5 303.6 L1038.5 303.4 L1039.5 306.2 L1039.5 296.9 L1039.5 306.2 L1039.5 296.9 L1040.5 307.3 L1040.5 301.6 L1040.5 308.8 L1040.5 303.4 L1041.5 307.9 L1041.5 305.1 L1041.5 307.9 L1041.5 307.1 L1042.5 298.1 L1042.5 307.8 L1042.5 301.1 L1043.5 310.7 L1043.5 304.0 L1043.5 310.7 L1043.5 304.0 L1044.5 309.6 L1044.5 307.0 L1044.5 312.9 L1044.5 309.0 L1045.5 303.0 L1045.5 311.6 L1045.5 304.5 L1046.5 308.6 L1046.5 305.5 L1046.5 309.4 L1046.5 307.0 L1047.5 307.7 L1047.5 302.2 L1047.5 313.3 L1048.5 305.7 L1048.5 302.5 L1048.5 308.5 L1049.5 300.4 L1049.5 317.7 L1049.5 313.8 L1050.5 312.4 L1050.5 297.0 L1050.5 314.2 L1050.5 297.0 L1051.5 313.2 L1051.5 295.5 L1051.5 313.5 L1051.5 295.5 L1052.5 313.5 L1052.5 303.7 L1052.5 314.2 L1052.5 307.2 L1053.5 310.9 L1053.5 306.0 L1053.5 312.7 L1053.5 307.0 L1054.5 310.4 L1054.5 298.2 L1054.5 310.4 L1054.5 300.9 L1055.5 307.6 L1055.5 316.1 L1056.5 309.5 L1056.5 295.0 L1056.5 309.5 L1056.5 295.0 L1057.5 304.5 L1057.5 293.0 L1057.5 310.5 L1057.5 306.1 L1058.5 309.4 L1058.5 299.2 L1058.5 312.0 L1058.5 300.5 L1059.5 293.4 L1059.5 315.0 L1060.5 296.7 L1060.5 310.7 L1060.5 299.8 L1061.5 314.7 L1061.5 301.9 L1061.5 314.7 L1061.5 313.7 L1062.5 311.6 L1062.5 301.8 L1062.5 311.6 L1062.5 308.6 L1063.5 303.6 L1063.5 297.8 L1063.5 303.6 L1063.5 297.8 L1064.5 293.1 L1064.5 288.2 L1064.5 311.0 L1064.5 288.2 L1065.5 301.4 L1065.5 299.8 L1065.5 310.2 L1066.5 299.3 L1066.5 295.7 L1066.5 299.8 L1067.5 297.4 L1067.5 295.0 L1067.5 301.4 L1067.5 295.0 L1068.5 310.7 L1068.5 303.8 L1068.5 310.7 L1068.5 303.8 L1069.5 304.4 L1069.5 303.6 L1069.5 307.7 L1069.5 305.4 L1070.5 307.4 L1070.5 295.6 L1070.5 307.4 L1070.5 295.6 L1071.5 305.1 L1071.5 297.1 L1071.5 305.1 L1071.5 303.0 L1072.5 304.5 L1072.5 293.4 L1072.5 304.5 L1072.5 303.2 L1073.5 299.4 L1073.5 306.3 L1073.5 301.4 L1074.5 293.4 L1074.5 303.6 L1074.5 300.2 L1075.5 296.3 L1075.5 291.7 L1075.5 297.5 L1076.5 293.5 L1076.5 292.9 L1076.5 304.0 L1076.5 295.4 L1077.5 302.5 L1077.5 295.1 L1077.5 304.7 L1077.5 303.2 L1078.5 296.7 L1078.5 301.1 L1078.5 299.4 L1079.5 289.1 L1079.5 307.3 L1080.5 296.2 L1080.5 302.3 L1080.5 302.0 L1081.5 304.9 L1081.5 290.8 L1081.5 304.9 L1081.5 298.3 L1082.5 297.5 L1082.5 293.4 L1082.5 297.5 L1082.5 293.4 L1083.5 293.0 L1083.5 305.9 L1083.5 303.4 L1084.5 293.6 L1084.5 291.9 L1084.5 307.3 L1085.5 298.9 L1085.5 293.5 L1085.5 298.9 L1085.5 293.5 L1086.5 291.2 L1086.5 297.8 L1086.5 294.5 L1087.5 294.0 L1087.5 293.8 L1087.5 306.9 L1088.5 297.8 L1088.5 292.4 L1088.5 300.5 L1088.5 292.4 L1089.5 298.0 L1089.5 305.3 L1090.5 295.8 L1090.5 291.9 L1090.5 300.5 L1091.5 294.9 L1091.5 290.8 L1091.5 308.4 L1091.5 290.8 L1092.5 300.9 L1092.5 287.9 L1092.5 304.6 L1092.5 300.0 L1093.5 297.5 L1093.5 290.7 L1093.5 306.2 L1093.5 300.0 L1094.5 296.0 L1094.5 303.1 L1095.5 302.0 L1095.5 292.0 L1095.5 302.0 L1095.5 296.3 L1096.5 299.4 L1096.5 292.7 L1096.5 307.1 L1096.5 292.7 L1097.5 288.3 L1097.5 300.0 L1097.5 295.3 L1098.5 296.2 L1098.5 293.5 L1098.5 298.0 L1099.5 294.9 L1099.5 302.4 L1099.5 299.3 L1100.5 300.8 L1100.5 299.7 L1100.5 305.7 L1100.5 299.7 L1101.5 297.5 L1101.5 293.9 L1101.5 302.3 L1102.5 299.7 L1102.5 289.7 L1102.5 299.7 L1102.5 289.7 L1103.5 300.2 L1103.5 290.6 L1103.5 304.1 L1103.5 290.6 L1104.5 297.1 L1104.5 293.1 L1104.5 300.2 L1105.5 297.1 L1105.5 291.2 L1105.5 302.8 L1106.5 300.2 L1106.5 292.5 L1106.5 303.2 L1107.5 301.5 L1107.5 296.4 L1107.5 307.1 L1107.5 296.5 L1108.5 292.1 L1108.5 304.3 L1108.5 300.0 L1109.5 298.3 L1109.5 291.3 L1109.5 298.3 L1109.5 296.9 L1110.5 306.0 L1110.5 292.3 L1110.5 306.0 L1110.5 299.2 L1111.5 291.7 L1111.5 301.2 L1111.5 292.9 L1112.5 285.9 L1112.5 300.4 L1113.5 287.1 L1113.5 297.1 L1113.5 289.5 L1114.5 296.5 L1114.5 291.1 L1114.5 298.8 L1114.5 291.1 L1115.5 299.0 L1115.5 287.9 L1115.5 300.8 L1115.5 300.5 L1116.5 307.2 L1116.5 299.2 L1116.5 307.2 L1116.5 299.2 L1117.5 297.8 L1117.5 290.2 L1117.5 305.9 L1117.5 300.6 L1118.5 296.0 L1118.5 291.2 L1118.5 306.0 L1118.5 300.6 L1119.5 290.9 L1119.5 308.3 L1119.5 297.4 L1120.5 299.8 L1120.5 294.0 L1120.5 303.6 L1121.5 298.0 L1121.5 295.7 L1121.5 301.9 L1121.5 295.7 L1122.5 301.6 L1122.5 291.4 L1122.5 302.1 L1122.5 291.4 L1123.5 297.0 L1123.5 304.4 L1124.5 289.6 L1124.5 300.1 L1124.5 297.9 L1125.5 299.1 L1125.5 290.7 L1125.5 299.1 L1125.5 290.7 L1126.5 298.8 L1126.5 292.5 L1126.5 298.8 L1126.5 298.5 L1127.5 293.5 L1127.5 303.7 L1127.5 302.0 L1128.5 298.8 L1128.5 291.3 L1128.5 298.8 L1128.5 292.4 L1129.5 295.1 L1129.5 294.7 L1129.5 307.3 L1129.5 294.7 L1130.5 305.9 L1130.5 289.7 L1130.5 305.9 L1130.5 299.7 L1131.5 285.8 L1131.5 302.8 L1131.5 299.2 L1132.5 295.8 L1132.5 295.2 L1132.5 298.4 L1132.5 295.2 L1133.5 293.9 L1133.5 293.4 L1133.5 303.5 L1133.5 293.4 L1134.5 299.0 L1134.5 289.1 L1134.5 299.0 L1134.5 289.1 L1135.5 295.7 L1135.5 294.0 L1135.5 300.7 L1135.5 294.0 L1136.5 300.2 L1136.5 294.8 L1136.5 300.2 L1136.5 298.3 L1137.5 299.8 L1137.5 291.6 L1137.5 301.1 L1137.5 296.1 L1138.5 295.8 L1138.5 293.6 L1138.5 305.0 L1138.5 299.8 L1139.5 307.3 L1139.5 295.5 L1139.5 307.3 L1139.5 300.7 L1140.5 292.2 L1140.5 295.3 L1141.5 300.9 L1141.5 293.7 L1141.5 300.9 L1141.5 293.7" stroke="#000" stroke-width="1.1" fill="none" stroke-linejoin="round"/>
<line x1="810.0" y1="731.4" x2="484.9" y2="622.6" stroke="#ff1a1a" stroke-width="1.15"/><polygon points="466.4,616.4 486.4,618.1 483.4,627.0" fill="#ff0000"/>
<line x1="880.9" y1="696.6" x2="622.0" y2="554.6" stroke="#ff1a1a" stroke-width="1.15"/><polygon points="604.9,545.2 624.3,550.5 619.7,558.7" fill="#ff0000"/>
<line x1="952.3" y1="696.6" x2="730.3" y2="469.2" stroke="#ff1a1a" stroke-width="1.15"/><polygon points="716.7,455.2 733.7,465.9 727.0,472.4" fill="#ff0000"/>
<line x1="987.7" y1="696.6" x2="846.0" y2="380.3" stroke="#ff1a1a" stroke-width="1.15"/><polygon points="838.0,362.5 850.3,378.4 841.7,382.2" fill="#ff0000"/>
<line x1="1047.7" y1="730.0" x2="1043.6" y2="343.8" stroke="#ff1a1a" stroke-width="1.15"/><polygon points="1043.4,324.3 1048.3,343.7 1038.9,343.8" fill="#ff0000"/>
<rect x="246" y="335.0" width="188.5" height="85.2" fill="#fff"/>
<rect x="450" y="376.6" width="183.3" height="58.2" fill="#fff"/>
<rect x="556" y="233.6" width="185.0" height="58.4" fill="#fff"/>
<rect x="769" y="245.6" width="183.2" height="59.8" fill="#fff"/>
<rect x="840" y="460.6" width="185.0" height="59.8" fill="#fff"/>
<text transform="translate(250.0 409.3) scale(1 1.02)" x="0" y="0" font-family='"Liberation Sans", sans-serif' font-size="48" fill="#000">36 ppbV</text>
<text transform="translate(452.6 422.9) scale(1 1.02)" x="0" y="0" font-family='"Liberation Sans", sans-serif' font-size="48" fill="#000">36 ppbV</text>
<text transform="translate(559.2 280.4) scale(1 1.02)" x="0" y="0" font-family='"Liberation Sans", sans-serif' font-size="48" fill="#000">50 ppbV</text>
<text transform="translate(771.8 294.8) scale(1 1.02)" x="0" y="0" font-family='"Liberation Sans", sans-serif' font-size="48" fill="#000">50 ppbV</text>
<text transform="translate(842.0 507.4) scale(1 1.02)" x="0" y="0" font-family='"Liberation Sans", sans-serif' font-size="48" fill="#000">28 ppbV</text>
<g stroke="#111" stroke-width="1.05" fill="none">
<path d="M203.0 146.8 L203.0 874.0 M187.0 873.6999999999999 L203.0 873.6999999999999 L1205.2 874.4"/>
<line x1="203.0" y1="147.0" x2="187.0" y2="146.1"/>
<line x1="203.0" y1="192.4" x2="194.6" y2="191.9"/>
<line x1="203.0" y1="237.8" x2="187.0" y2="236.9"/>
<line x1="203.0" y1="283.2" x2="194.6" y2="282.7"/>
<line x1="203.0" y1="328.6" x2="187.0" y2="327.8"/>
<line x1="203.0" y1="374.1" x2="194.6" y2="373.6"/>
<line x1="203.0" y1="419.5" x2="187.0" y2="418.6"/>
<line x1="203.0" y1="464.9" x2="194.6" y2="464.4"/>
<line x1="203.0" y1="510.3" x2="187.0" y2="509.4"/>
<line x1="203.0" y1="555.7" x2="194.6" y2="555.2"/>
<line x1="203.0" y1="601.1" x2="187.0" y2="600.2"/>
<line x1="203.0" y1="646.5" x2="194.6" y2="646.0"/>
<line x1="203.0" y1="692.0" x2="187.0" y2="691.0"/>
<line x1="203.0" y1="737.4" x2="194.6" y2="736.9"/>
<line x1="203.0" y1="782.8" x2="187.0" y2="781.9"/>
<line x1="203.0" y1="828.2" x2="194.6" y2="827.7"/>
<line x1="277.4" y1="873.8" x2="276.3" y2="887.0"/>
<line x1="397.6" y1="873.8" x2="396.8" y2="879.6"/>
<line x1="517.8" y1="873.8" x2="516.7" y2="887.0"/>
<line x1="638.0" y1="873.8" x2="637.2" y2="879.6"/>
<line x1="758.2" y1="873.8" x2="757.1" y2="887.0"/>
<line x1="878.4" y1="873.8" x2="877.6" y2="879.6"/>
<line x1="998.6" y1="873.8" x2="997.5" y2="887.0"/>
<line x1="1118.8" y1="873.8" x2="1118.0" y2="879.6"/>
</g>
<g stroke="#ff1a1a" stroke-width="1.1" fill="none">
<path d="M1221.5 146.5 L1221.5 873.6999999999999"/>
<line x1="1221.5" y1="146.4" x2="1205.2" y2="147.7"/>
<line x1="1221.5" y1="191.8" x2="1212.9" y2="192.6"/>
<line x1="1221.5" y1="237.2" x2="1205.2" y2="238.5"/>
<line x1="1221.5" y1="282.6" x2="1212.9" y2="283.4"/>
<line x1="1221.5" y1="328.1" x2="1205.2" y2="329.3"/>
<line x1="1221.5" y1="373.5" x2="1212.9" y2="374.3"/>
<line x1="1221.5" y1="418.9" x2="1205.2" y2="420.2"/>
<line x1="1221.5" y1="464.3" x2="1212.9" y2="465.1"/>
<line x1="1221.5" y1="509.7" x2="1205.2" y2="511.0"/>
<line x1="1221.5" y1="555.1" x2="1212.9" y2="555.9"/>
<line x1="1221.5" y1="600.5" x2="1205.2" y2="601.8"/>
<line x1="1221.5" y1="645.9" x2="1212.9" y2="646.7"/>
<line x1="1221.5" y1="691.4" x2="1205.2" y2="692.6"/>
<line x1="1221.5" y1="736.8" x2="1212.9" y2="737.6"/>
<line x1="1221.5" y1="782.2" x2="1205.2" y2="783.5"/>
<line x1="1221.5" y1="827.6" x2="1212.9" y2="828.4"/>
<line x1="1221.5" y1="873.0" x2="1205.2" y2="874.3"/>
</g>
<text transform="translate(63.8 162.2) scale(1 1.03)" font-family='"Liberation Serif", serif' font-size="53.8" fill="#000" stroke="#000" stroke-width="0.3" text-anchor="start" >0.35</text>
<text transform="translate(63.8 253.0) scale(1 1.03)" font-family='"Liberation Serif", serif' font-size="53.8" fill="#000" stroke="#000" stroke-width="0.3" text-anchor="start" >0.30</text>
<text transform="translate(63.8 343.8) scale(1 1.03)" font-family='"Liberation Serif", serif' font-size="53.8" fill="#000" stroke="#000" stroke-width="0.3" text-anchor="start" >0.25</text>
<text transform="translate(63.8 434.7) scale(1 1.03)" font-family='"Liberation Serif", serif' font-size="53.8" fill="#000" stroke="#000" stroke-width="0.3" text-anchor="start" >0.20</text>
<text transform="translate(63.8 525.5) scale(1 1.03)" font-family='"Liberation Serif", serif' font-size="53.8" fill="#000" stroke="#000" stroke-width="0.3" text-anchor="start" >0.15</text>
<text transform="translate(63.8 616.3) scale(1 1.03)" font-family='"Liberation Serif", serif' font-size="53.8" fill="#000" stroke="#000" stroke-width="0.3" text-anchor="start" >0.10</text>
<text transform="translate(63.8 707.1) scale(1 1.03)" font-family='"Liberation Serif", serif' font-size="53.8" fill="#000" stroke="#000" stroke-width="0.3" text-anchor="start" >0.05</text>
<text transform="translate(63.8 798.0) scale(1 1.03)" font-family='"Liberation Serif", serif' font-size="53.8" fill="#000" stroke="#000" stroke-width="0.3" text-anchor="start" >0.00</text>
<text transform="translate(43.8 888.8) scale(1 1.03)" font-family='"Liberation Serif", serif' font-size="53.8" fill="#000" stroke="#000" stroke-width="0.3" text-anchor="start" >-0.05</text>
<text transform="translate(1236.0 162.2) scale(1 1.03)" font-family='"Liberation Serif", serif' font-size="53.8" fill="#ff0000" stroke="#ff0000" stroke-width="0.3" text-anchor="start" >70</text>
<text transform="translate(1236.0 253.0) scale(1 1.03)" font-family='"Liberation Serif", serif' font-size="53.8" fill="#ff0000" stroke="#ff0000" stroke-width="0.3" text-anchor="start" >60</text>
<text transform="translate(1236.0 343.8) scale(1 1.03)" font-family='"Liberation Serif", serif' font-size="53.8" fill="#ff0000" stroke="#ff0000" stroke-width="0.3" text-anchor="start" >50</text>
<text transform="translate(1236.0 434.7) scale(1 1.03)" font-family='"Liberation Serif", serif' font-size="53.8" fill="#ff0000" stroke="#ff0000" stroke-width="0.3" text-anchor="start" >40</text>
<text transform="translate(1236.0 525.5) scale(1 1.03)" font-family='"Liberation Serif", serif' font-size="53.8" fill="#ff0000" stroke="#ff0000" stroke-width="0.3" text-anchor="start" >30</text>
<text transform="translate(1236.0 616.3) scale(1 1.03)" font-family='"Liberation Serif", serif' font-size="53.8" fill="#ff0000" stroke="#ff0000" stroke-width="0.3" text-anchor="start" >20</text>
<text transform="translate(1236.0 707.1) scale(1 1.03)" font-family='"Liberation Serif", serif' font-size="53.8" fill="#ff0000" stroke="#ff0000" stroke-width="0.3" text-anchor="start" >10</text>
<text transform="translate(1236.0 798.0) scale(1 1.03)" font-family='"Liberation Serif", serif' font-size="53.8" fill="#ff0000" stroke="#ff0000" stroke-width="0.3" text-anchor="start" >0</text>
<text transform="translate(1235.4 888.8) scale(1 1.03)" font-family='"Liberation Serif", serif' font-size="53.8" fill="#ff0000" stroke="#ff0000" stroke-width="0.3" text-anchor="start" >-10</text>
<text transform="translate(260.9 940.8) scale(1 1.03)" font-family='"Liberation Serif", serif' font-size="53.8" fill="#000" stroke="#000" stroke-width="0.3" text-anchor="start" >0</text>
<text transform="translate(453.3 940.8) scale(1 1.03)" font-family='"Liberation Serif", serif' font-size="53.8" fill="#000" stroke="#000" stroke-width="0.3" text-anchor="start" >1000</text>
<text transform="translate(691.6 940.8) scale(1 1.03)" font-family='"Liberation Serif", serif' font-size="53.8" fill="#000" stroke="#000" stroke-width="0.3" text-anchor="start" >2000</text>
<text transform="translate(932.6 940.8) scale(1 1.03)" font-family='"Liberation Serif", serif' font-size="53.8" fill="#000" stroke="#000" stroke-width="0.3" text-anchor="start" >3000</text>
<text transform="translate(556.5 988.0) scale(1 1.03)" font-family='"Liberation Serif", serif' font-size="53.6" fill="#000" stroke="#000" stroke-width="0.3" text-anchor="start" >Time(s)</text>
<text transform="translate(285.2 37.4) scale(1 1.025)" font-family='"Liberation Serif", serif' font-size="53.2" fill="#000" stroke="#000" stroke-width="0.3" text-anchor="start" >Tuning Fork coating mass = 4.5</text>
<text transform="translate(1055.6 37.4) scale(1 1.025)" font-family='"Liberation Serif", serif' font-size="53" fill="#000" stroke="#000" stroke-width="0.3" text-anchor="start" >μ<tspan dx="2.2">g</tspan></text>
<text transform="translate(823.5 766.6) scale(1 1.04)" font-family='"Liberation Serif", serif' font-size="53.4" fill="#000" stroke="#000" stroke-width="0.3" text-anchor="start" >Ozone Scubber</text>
<text x="0" y="0" font-family='"Liberation Serif", serif' font-size="53.4" fill="#000" stroke="#000" stroke-width="0.3" text-anchor="start" transform="translate(37.6 703.5) rotate(-90) scale(1 1.02)">-<tspan dx="1.2">Δ</tspan><tspan dx="-4.0" letter-spacing="0.06">Frequency(Hz)</tspan></text>
<text x="0" y="0" font-family='"Liberation Serif", serif' font-size="53.4" fill="#ff0000" stroke="#ff0000" stroke-width="0.3" text-anchor="start" transform="translate(1389.2 833) rotate(-90) scale(1 1.02)">Ozone Concentration (ppbV)</text>
</svg>
</body>
</html>
